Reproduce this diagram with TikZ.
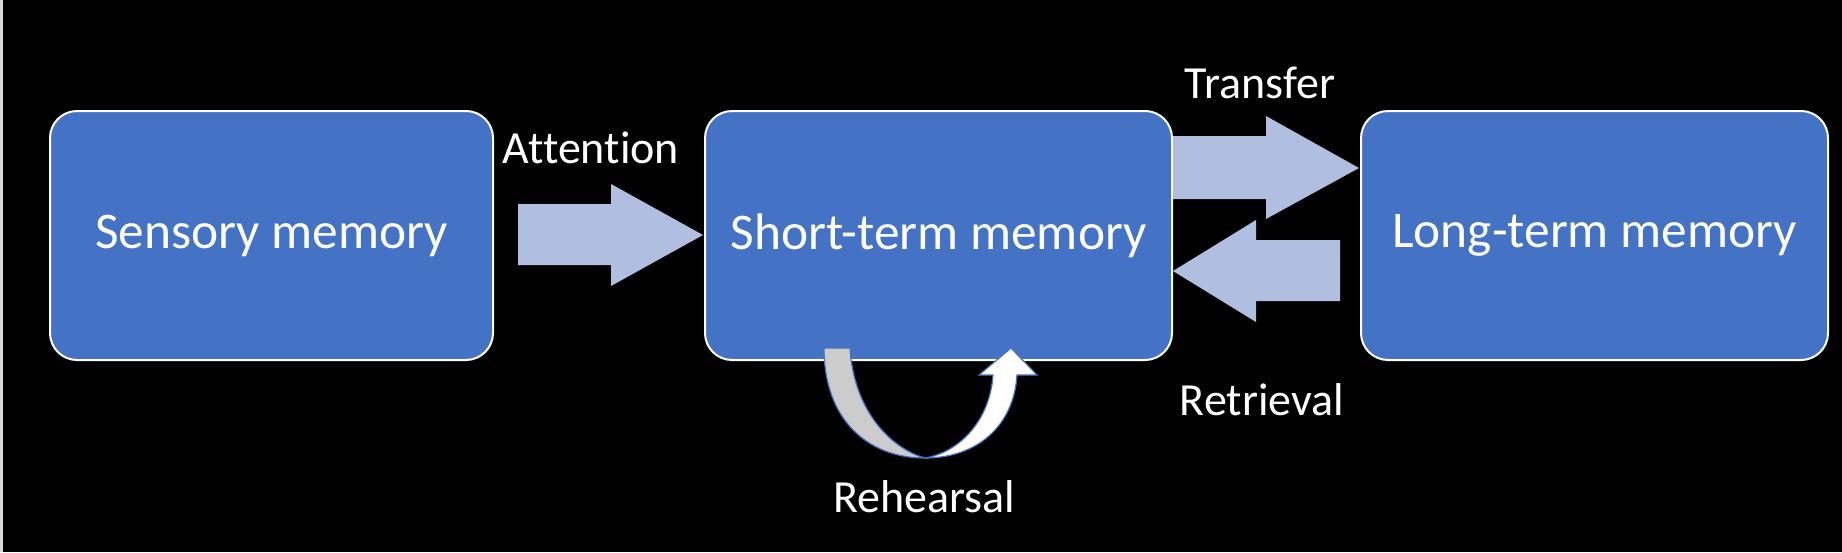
\documentclass[tikz,border=0pt]{standalone}
\usepackage{fontspec}
\setmainfont{Carlito}[Ligatures=NoCommon]
\definecolor{boxblue}{HTML}{4472C4}
\definecolor{arrowfill}{HTML}{B0BEE0}
\definecolor{rehgray}{HTML}{CCCCCC}
\begin{document}
\begin{tikzpicture}[x=0.5pt,y=-0.5pt,
  membox/.style={draw=white,line width=1pt,fill=boxblue,rounded corners=13.5pt,
    minimum width=233.5pt,minimum height=124.5pt,inner sep=0pt,
    text=white,font=\fontsize{25.7}{30}\selectfont},
  lbl/.style={text=white,font=\fontsize{23}{26}\selectfont,anchor=base,inner sep=0pt},
  blockarrow/.style={fill=arrowfill,draw=none}]
\fill[black] (0,0) rectangle (1842,552);
\fill[black!15] (0,0) rectangle (3,552);
\useasboundingbox (0,0) rectangle (1842,552);
\node[membox,minimum width=221.5pt] (sm) at (271.5,235.5) {Sensory memory};
\node[membox] (stm) at (938.5,235.5) {Short-term memory};
\node[membox] (ltm) at (1594.5,235.5) {Long-term memory};
% Attention
\fill[blockarrow] (518,204) -- (611,204) -- (611,184) -- (703,235) -- (611,286) -- (611,265) -- (518,265) -- cycle;
% Transfer
\fill[blockarrow] (1173,136) -- (1266,136) -- (1266,116) -- (1359,168) -- (1266,219) -- (1266,199) -- (1173,199) -- cycle;
% Retrieval
\fill[blockarrow] (1340,240) -- (1256,240) -- (1256,220) -- (1173,271) -- (1256,322) -- (1256,301) -- (1340,301) -- cycle;
% Rehearsal curved arrow
\filldraw[fill=rehgray,draw=boxblue,line width=0.6pt]
  (824,348) .. controls (824,420) and (868,458) .. (925,458)
  .. controls (895,450) and (854,415) .. (850,348) -- cycle;
\filldraw[fill=white,draw=boxblue,line width=0.6pt]
  (925,458) .. controls (978,458) and (1014,425) .. (1017,375)
  -- (1037,375) -- (1011,348) -- (979,375) -- (993,375)
  .. controls (990,420) and (960,452) .. (925,458) -- cycle;
\node[lbl] (att) at (591,163) {Attention};
\node[lbl] (tra) at (1260,98) {Transfer};
\node[lbl] (ret) at (1262,415) {Retrieval};
\node[lbl] (reh) at (924,512) {Rehearsal};
\end{tikzpicture}
\end{document}
